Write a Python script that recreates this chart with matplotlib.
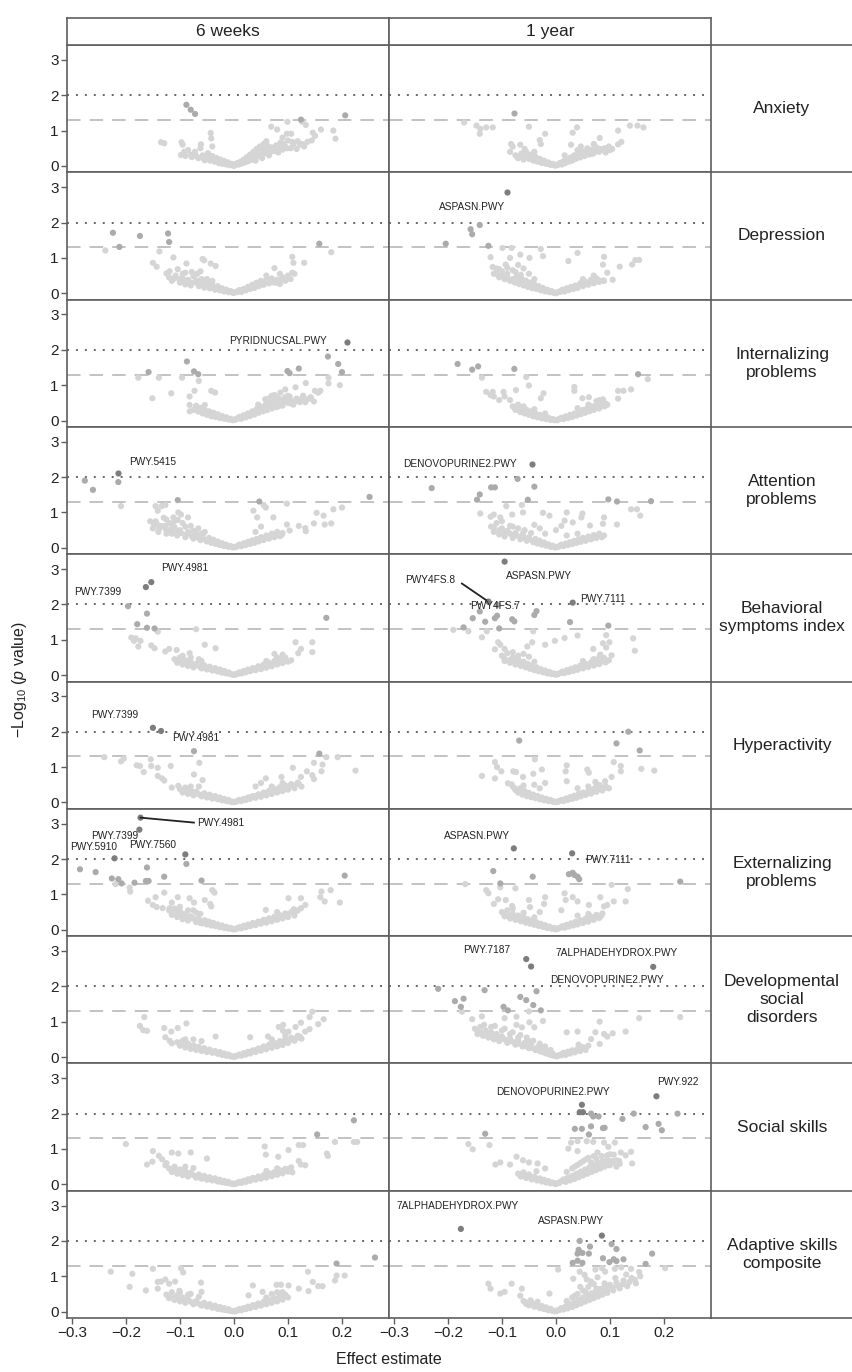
import numpy as np
import matplotlib.pyplot as plt
from matplotlib.lines import Line2D

plt.rcParams['font.family'] = ['Liberation Sans', 'DejaVu Sans']
plt.rcParams['mathtext.fontset'] = 'custom'
plt.rcParams['mathtext.rm'] = 'Liberation Sans'
plt.rcParams['mathtext.it'] = 'Liberation Sans:italic'

outcomes = ["Anxiety", "Depression", "Internalizing\nproblems", "Attention\nproblems",
            "Behavioral\nsymptoms index", "Hyperactivity", "Externalizing\nproblems",
            "Developmental\nsocial\ndisorders", "Social skills", "Adaptive skills\ncomposite"]
timepoints = ["6 weeks", "1 year"]
xticks = [-0.3, -0.2, -0.1, 0.0, 0.1, 0.2]
yticks = [0, 1, 2, 3]

# (effect estimate, -log10 p) per panel
anx_6w = [(-0.088,1.73),(-0.080,1.59),(-0.072,1.47),(0.206,1.43),(0.124,1.31),(0.126,1.25),
          (-0.135,0.67),(-0.129,0.64),(-0.097,0.67),(-0.095,0.60),(-0.098,0.31),(-0.092,0.40),
          (-0.061,0.61),(-0.054,0.16),(-0.043,0.93),(-0.042,0.78),(-0.040,0.55),
          (0.069,1.11),(0.080,1.03),(0.098,0.91),(0.106,0.91),(0.133,1.16),(0.146,0.94),
          (0.161,1.03),(0.184,1.00),(0.188,0.77),(0.099,1.25),(0.150,0.85),
          (-0.090,0.28),(-0.085,0.45),(-0.078,0.25),(-0.072,0.40),(-0.066,0.22),(-0.062,0.50),
          (-0.058,0.30),(-0.052,0.20),(-0.048,0.36),(-0.044,0.15),(-0.040,0.28),(-0.036,0.12),
          (-0.032,0.22),(-0.028,0.08),(-0.025,0.18),(-0.021,0.06),(-0.018,0.14),(-0.014,0.04),
          (-0.011,0.10),(-0.007,0.02),(-0.004,0.06),(0.000,0.00),(0.003,0.03),(0.006,0.08),
          (0.009,0.04),(0.012,0.12),(0.015,0.07),(0.018,0.18),(0.021,0.10),(0.024,0.25),
          (0.027,0.14),(0.030,0.32),(0.033,0.18),(0.036,0.40),(0.039,0.22),(0.042,0.48),
          (0.045,0.28),(0.048,0.55),(0.052,0.32),(0.055,0.62),(0.058,0.36),(0.062,0.45),
          (0.066,0.38),(0.070,0.52),(0.074,0.42),(0.078,0.58),(0.082,0.38),(0.086,0.66),
          (0.090,0.46),(0.095,0.55),(0.100,0.72),(0.105,0.50),(0.110,0.62),(0.116,0.48),
          (0.122,0.60),(0.130,0.55),(0.136,0.68),(0.144,0.72),(0.060,0.70),(0.090,0.80)]
anx_6w += [(-0.080,0.32),(-0.070,0.28),(-0.060,0.24),(-0.050,0.26),(-0.042,0.20),(-0.034,0.17),
           (-0.026,0.12),(-0.016,0.09),(-0.008,0.05),(-0.003,0.03),(0.004,0.05),(0.010,0.08),
           (0.016,0.12),(0.020,0.15),(0.026,0.20),(0.032,0.25),(0.038,0.31),(0.044,0.38),
           (0.050,0.44),(0.056,0.48),(0.064,0.55),(0.068,0.45),(0.076,0.50),(0.084,0.52),
           (0.092,0.62),(0.098,0.50),(0.108,0.68),(0.118,0.70),(0.126,0.62),(0.040,0.15),
           (0.052,0.22),(0.065,0.30)]
anx_1y = [(-0.077,1.49),(-0.170,1.23),(-0.147,1.14),(-0.140,1.05),(-0.129,1.09),(-0.117,1.09),
          (-0.141,0.91),(-0.050,1.11),(-0.020,0.91),(0.039,1.09),(0.031,0.94),(0.115,1.00),
          (0.137,1.14),(0.151,1.14),(0.162,1.09),(0.121,0.68),(0.115,0.61),(0.081,0.79),
          (-0.083,0.62),(-0.085,0.40),(-0.080,0.55),(-0.066,0.60),(-0.030,0.73),(-0.028,0.62),
          (0.028,0.60),(0.046,0.55),(0.070,0.62),(0.098,0.55),(0.104,0.48),
          (-0.075,0.30),(-0.070,0.22),(-0.064,0.35),(-0.060,0.18),(-0.055,0.40),(-0.050,0.20),
          (-0.046,0.32),(-0.042,0.15),(-0.038,0.26),(-0.034,0.12),(-0.030,0.20),(-0.026,0.08),
          (-0.022,0.15),(-0.018,0.06),(-0.014,0.10),(-0.010,0.03),(-0.006,0.06),(-0.002,0.01),
          (0.002,0.02),(0.005,0.05),(0.008,0.09),(0.011,0.04),(0.014,0.13),(0.017,0.08),
          (0.020,0.18),(0.024,0.12),(0.027,0.24),(0.030,0.15),(0.034,0.30),(0.037,0.20),
          (0.041,0.36),(0.045,0.24),(0.049,0.42),(0.053,0.28),(0.057,0.40),(0.061,0.32),
          (0.065,0.46),(0.070,0.36),(0.075,0.52),(0.080,0.40),(0.086,0.46),(0.092,0.38),
          (0.100,0.45)]
anx_1y += [(-0.072,0.26),(-0.062,0.28),(-0.052,0.25),(-0.044,0.22),(-0.036,0.17),(-0.028,0.13),
           (-0.020,0.10),(-0.012,0.06),(-0.004,0.03),(0.004,0.04),(0.012,0.07),(0.018,0.12),
           (0.024,0.16),(0.030,0.22),(0.036,0.26),(0.042,0.30),(0.048,0.32),(0.054,0.36),
           (0.060,0.42),(0.066,0.34),(0.072,0.45),(0.082,0.48),(0.090,0.50),(0.040,0.45),
           (-0.040,0.40),(-0.058,0.48),(0.016,0.30),(0.058,0.50)]
dep_6w = [(-0.224,1.71),(-0.174,1.62),(-0.122,1.69),(-0.120,1.45),(-0.212,1.31),(-0.238,1.21),
          (0.158,1.40),(0.180,1.16),(-0.138,1.18),(-0.150,0.86),(-0.143,0.75),(-0.125,0.56),
          (-0.119,0.62),(-0.112,1.01),(-0.104,0.68),(-0.088,0.84),(-0.058,0.97),(-0.055,0.93),
          (-0.043,0.84),(-0.034,0.77),(0.108,1.03),(0.110,0.86),(0.130,0.86),(0.108,0.58),
          (0.075,0.71),
          (-0.120,0.45),(-0.115,0.35),(-0.108,0.50),(-0.100,0.30),(-0.095,0.42),(-0.090,0.25),
          (-0.085,0.38),(-0.080,0.22),(-0.075,0.48),(-0.070,0.30),(-0.065,0.20),(-0.060,0.40),
          (-0.055,0.16),(-0.050,0.30),(-0.045,0.14),(-0.040,0.24),(-0.035,0.10),(-0.030,0.20),
          (-0.026,0.08),(-0.022,0.14),(-0.018,0.05),(-0.014,0.10),(-0.010,0.03),(-0.006,0.06),
          (-0.002,0.01),(0.002,0.02),(0.006,0.05),(0.010,0.09),(0.014,0.04),(0.018,0.12),
          (0.022,0.08),(0.026,0.18),(0.030,0.12),(0.034,0.24),(0.038,0.15),(0.042,0.30),
          (0.046,0.20),(0.050,0.35),(0.055,0.24),(0.060,0.40),(0.065,0.28),(0.070,0.42),
          (0.075,0.30),(0.080,0.38),(0.085,0.26),(0.090,0.45),(0.095,0.35),(0.100,0.50),
          (0.105,0.40),(0.112,0.55),(-0.068,0.55),(-0.062,0.62),(-0.078,0.60),(-0.090,0.58)]
dep_6w += [(-0.110,0.42),(-0.100,0.40),(-0.090,0.35),(-0.080,0.30),(-0.070,0.36),(-0.060,0.28),
           (-0.050,0.22),(-0.040,0.18),(-0.032,0.14),(-0.024,0.11),(-0.016,0.07),(-0.008,0.04),
           (0.000,0.02),(0.008,0.04),(0.016,0.08),(0.024,0.13),(0.032,0.17),(0.040,0.22),
           (0.048,0.26),(0.056,0.30),(0.064,0.34),(0.072,0.36),(0.080,0.30),(0.088,0.38),
           (0.098,0.42),(-0.050,0.40),(-0.040,0.35),(0.060,0.50),(0.085,0.55),(-0.095,0.55)]
dep_1y = [(-0.091,2.85),(-0.141,1.93),(-0.158,1.81),(-0.155,1.67),(-0.204,1.40),(-0.125,1.34),
          (-0.099,1.28),(-0.082,1.28),(-0.028,1.25),(0.040,1.14),(-0.121,1.02),(-0.085,1.00),
          (-0.066,1.09),(-0.049,1.00),(-0.024,1.05),(0.023,0.91),(0.089,1.03),(0.087,0.81),
          (0.154,0.94),(0.147,0.94),(0.141,0.81),(0.118,0.75),(0.095,0.58),(0.105,0.38),
          (0.089,0.35),(-0.117,0.74),(-0.105,0.68),(-0.093,0.81),
          (-0.115,0.55),(-0.110,0.70),(-0.105,0.45),(-0.100,0.62),(-0.095,0.40),(-0.090,0.55),
          (-0.085,0.35),(-0.080,0.65),(-0.076,0.30),(-0.072,0.50),(-0.068,0.26),(-0.064,0.42),
          (-0.060,0.22),(-0.056,0.36),(-0.052,0.18),(-0.048,0.30),(-0.044,0.14),(-0.040,0.25),
          (-0.036,0.12),(-0.032,0.20),(-0.028,0.08),(-0.024,0.15),(-0.020,0.05),(-0.016,0.10),
          (-0.012,0.03),(-0.008,0.06),(-0.004,0.01),(0.000,0.00),(0.004,0.03),(0.008,0.06),
          (0.012,0.10),(0.016,0.05),(0.020,0.14),(0.024,0.09),(0.028,0.18),(0.032,0.12),
          (0.036,0.22),(0.040,0.15),(0.045,0.28),(0.050,0.20),(0.055,0.32),(0.060,0.24),
          (0.065,0.38),(0.070,0.28),(0.075,0.42),(0.080,0.32),(0.088,0.36),(-0.070,0.80),
          (-0.060,0.70),(-0.050,0.55)]
dep_1y += [(-0.110,0.55),(-0.100,0.50),(-0.090,0.45),(-0.080,0.40),(-0.072,0.38),(-0.064,0.32),
           (-0.056,0.28),(-0.048,0.24),(-0.040,0.19),(-0.032,0.15),(-0.024,0.11),(-0.016,0.07),
           (-0.008,0.04),(0.000,0.02),(0.008,0.04),(0.016,0.08),(0.024,0.12),(0.032,0.16),
           (0.040,0.20),(0.048,0.24),(0.056,0.27),(0.064,0.30),(0.072,0.34),(0.080,0.36),
           (-0.090,0.72),(-0.075,0.60),(-0.065,0.52),(-0.040,0.40),(0.050,0.40),(0.070,0.50)]
int_6w = [(0.209,2.23),(-0.087,1.67),(0.174,1.81),(0.193,1.60),(0.120,1.47),(0.099,1.40),
          (0.103,1.34),(-0.158,1.37),(-0.074,1.39),(-0.066,1.31),(0.200,1.37),
          (-0.177,1.21),(-0.139,1.21),(-0.096,1.21),(-0.151,0.63),(-0.116,0.77),(-0.065,1.12),
          (-0.073,0.84),(-0.082,0.68),(-0.082,0.44),(-0.082,0.26),(-0.042,0.84),(-0.035,0.79),
          (-0.054,0.44),(0.133,1.06),(0.175,1.21),(0.175,1.05),(0.196,1.00),(0.114,0.94),
          (0.095,0.88),(0.150,0.84),(0.156,0.79),(0.160,0.84),(0.120,0.58),(0.148,0.54),
          (0.142,0.62),(0.086,0.79),(0.075,0.72),(0.103,0.68),(0.091,0.54),
          (-0.075,0.30),(-0.070,0.42),(-0.066,0.25),(-0.062,0.36),(-0.058,0.20),(-0.054,0.30),
          (-0.050,0.16),(-0.046,0.26),(-0.042,0.12),(-0.038,0.22),(-0.034,0.10),(-0.030,0.18),
          (-0.026,0.07),(-0.022,0.13),(-0.018,0.05),(-0.014,0.09),(-0.010,0.03),(-0.006,0.05),
          (-0.002,0.01),(0.002,0.02),(0.006,0.06),(0.010,0.10),(0.014,0.05),(0.018,0.15),
          (0.022,0.09),(0.026,0.20),(0.030,0.13),(0.034,0.26),(0.038,0.17),(0.042,0.32),
          (0.046,0.22),(0.050,0.38),(0.054,0.26),(0.058,0.44),(0.062,0.30),(0.066,0.50),
          (0.070,0.34),(0.074,0.55),(0.078,0.38),(0.082,0.48),(0.086,0.60),(0.090,0.42),
          (0.095,0.66),(0.100,0.50),(0.105,0.58),(0.110,0.45),(0.116,0.62),(0.122,0.52),
          (0.128,0.70),(0.135,0.60),(0.142,0.66),(0.058,0.60),(0.070,0.70)]
int_6w += [(-0.070,0.34),(-0.062,0.28),(-0.054,0.24),(-0.046,0.20),(-0.038,0.16),(-0.030,0.13),
           (-0.022,0.09),(-0.014,0.06),(-0.006,0.03),(0.002,0.03),(0.010,0.06),(0.018,0.10),
           (0.026,0.15),(0.034,0.20),(0.042,0.24),(0.050,0.28),(0.058,0.32),(0.066,0.38),
           (0.074,0.42),(0.082,0.40),(0.090,0.52),(0.098,0.56),(0.106,0.48),(0.114,0.55),
           (0.124,0.60),(0.132,0.52),(0.064,0.62),(0.080,0.66),(0.100,0.70),(0.045,0.45)]
int_1y = [(-0.182,1.60),(-0.155,1.44),(-0.144,1.53),(-0.077,1.46),(0.152,1.31),
          (-0.137,1.21),(-0.055,1.23),(0.170,1.17),(-0.050,0.99),(-0.129,0.81),(-0.117,0.81),
          (-0.097,0.81),(-0.074,0.86),(-0.095,0.68),(-0.115,0.68),(-0.105,0.58),(-0.121,0.72),
          (-0.085,0.58),(0.115,0.84),(0.125,0.84),(0.139,0.88),(0.115,0.62),(0.034,0.95),
          (0.034,0.84),(-0.023,0.77),(-0.028,0.63),(0.061,0.66),(0.049,0.63),(0.081,0.58),
          (0.087,0.60),
          (-0.080,0.40),(-0.075,0.30),(-0.070,0.45),(-0.066,0.24),(-0.062,0.36),(-0.058,0.20),
          (-0.054,0.30),(-0.050,0.16),(-0.046,0.26),(-0.042,0.12),(-0.038,0.20),(-0.034,0.09),
          (-0.030,0.16),(-0.026,0.06),(-0.022,0.12),(-0.018,0.04),(-0.014,0.08),(-0.010,0.02),
          (-0.006,0.04),(-0.002,0.01),(0.002,0.01),(0.006,0.04),(0.010,0.08),(0.014,0.04),
          (0.018,0.12),(0.022,0.07),(0.026,0.16),(0.030,0.10),(0.034,0.20),(0.038,0.14),
          (0.042,0.25),(0.046,0.18),(0.050,0.30),(0.054,0.22),(0.058,0.35),(0.062,0.26),
          (0.066,0.40),(0.070,0.30),(0.075,0.45),(0.080,0.34),(0.085,0.50),(0.090,0.40),
          (0.095,0.45)]
int_1y += [(-0.076,0.36),(-0.068,0.32),(-0.060,0.27),(-0.052,0.23),(-0.044,0.19),(-0.036,0.15),
           (-0.028,0.11),(-0.020,0.08),(-0.012,0.05),(-0.004,0.02),(0.004,0.03),(0.012,0.06),
           (0.020,0.09),(0.028,0.13),(0.036,0.17),(0.044,0.21),(0.052,0.25),(0.060,0.29),
           (0.068,0.33),(0.076,0.38),(0.084,0.42),(0.092,0.48),(0.040,0.35),(0.060,0.45),
           (-0.040,0.32),(-0.060,0.40),(0.075,0.55),(-0.020,0.20)]
att_6w = [(-0.214,2.11),(-0.276,1.90),(-0.261,1.64),(-0.214,1.86),(-0.104,1.35),(0.047,1.31),
          (0.251,1.44),(-0.209,1.18),(-0.145,1.18),(-0.134,1.18),(-0.127,1.21),(-0.141,1.05),
          (-0.155,0.75),(-0.143,0.68),(-0.127,0.56),(-0.125,0.40),(-0.115,0.68),(-0.104,0.79),
          (-0.098,0.94),(-0.085,0.86),(-0.103,1.00),(-0.112,0.86),(0.055,1.21),(0.059,1.14),
          (0.043,0.86),(0.036,1.05),(0.073,0.86),(0.098,1.25),(0.098,0.66),(0.103,0.49),
          (0.120,0.62),(0.132,0.56),(0.133,0.47),(0.153,0.99),(0.166,0.91),(0.148,0.69),
          (0.180,0.69),(0.184,1.09),(0.200,1.14),(0.168,0.66),
          (-0.150,0.55),(-0.145,0.75),(-0.140,0.45),(-0.135,0.62),(-0.130,0.85),(-0.125,0.50),
          (-0.120,0.70),(-0.115,0.40),(-0.110,0.58),(-0.105,0.35),(-0.100,0.50),(-0.095,0.70),
          (-0.090,0.30),(-0.085,0.45),(-0.080,0.62),(-0.075,0.26),(-0.070,0.40),(-0.066,0.55),
          (-0.062,0.22),(-0.058,0.34),(-0.054,0.45),(-0.050,0.18),(-0.046,0.28),(-0.042,0.14),
          (-0.038,0.23),(-0.034,0.11),(-0.030,0.18),(-0.026,0.08),(-0.022,0.13),(-0.018,0.05),
          (-0.014,0.09),(-0.010,0.03),(-0.006,0.05),(-0.002,0.01),(0.002,0.02),(0.006,0.05),
          (0.010,0.09),(0.014,0.05),(0.018,0.13),(0.022,0.08),(0.026,0.17),(0.030,0.11),
          (0.034,0.21),(0.038,0.14),(0.042,0.25),(0.046,0.18),(0.050,0.30),(0.055,0.22),
          (0.060,0.35),(0.065,0.26),(0.070,0.40),(0.075,0.30),(0.080,0.45),(0.085,0.33),
          (0.090,0.42),(0.040,0.45),(0.050,0.60)]
att_6w += [(-0.148,0.65),(-0.138,0.55),(-0.128,0.62),(-0.118,0.52),(-0.108,0.48),(-0.098,0.42),
           (-0.088,0.38),(-0.078,0.33),(-0.068,0.30),(-0.060,0.26),(-0.052,0.22),(-0.044,0.19),
           (-0.036,0.15),(-0.028,0.12),(-0.020,0.08),(-0.012,0.05),(-0.004,0.03),(0.004,0.03),
           (0.012,0.06),(0.020,0.10),(0.028,0.14),(0.036,0.18),(0.044,0.22),(0.052,0.26),
           (0.060,0.28),(0.068,0.33),(0.078,0.38),(0.088,0.36),(-0.125,0.80),(-0.110,0.75),
           (-0.090,0.60),(-0.075,0.48),(-0.060,0.40)]
att_1y = [(-0.044,2.38),(-0.230,1.69),(-0.120,1.71),(-0.113,1.71),(-0.071,1.95),(-0.040,1.73),
          (-0.141,1.51),(-0.146,1.36),(-0.052,1.36),(0.097,1.37),(0.113,1.31),(0.176,1.32),
          (-0.092,1.18),(-0.063,1.21),(-0.140,0.97),(-0.115,0.94),(-0.121,0.88),(-0.103,0.86),
          (-0.081,0.94),(-0.061,1.00),(-0.024,0.99),(-0.012,0.91),(0.020,1.00),(0.049,0.97),
          (0.047,0.86),(0.016,0.77),(0.031,0.72),(0.063,0.63),(0.089,0.86),(0.087,0.68),
          (0.089,0.35),(0.113,0.66),(0.139,1.09),(0.150,1.09),(0.156,0.91),
          (-0.120,0.60),(-0.115,0.45),(-0.110,0.70),(-0.105,0.38),(-0.100,0.55),(-0.095,0.32),
          (-0.090,0.48),(-0.085,0.62),(-0.080,0.28),(-0.075,0.42),(-0.070,0.55),(-0.066,0.24),
          (-0.062,0.36),(-0.058,0.50),(-0.054,0.20),(-0.050,0.30),(-0.046,0.42),(-0.042,0.16),
          (-0.038,0.25),(-0.034,0.12),(-0.030,0.20),(-0.026,0.09),(-0.022,0.15),(-0.018,0.06),
          (-0.014,0.10),(-0.010,0.03),(-0.006,0.06),(-0.002,0.01),(0.002,0.02),(0.006,0.05),
          (0.010,0.09),(0.014,0.05),(0.018,0.12),(0.022,0.08),(0.026,0.16),(0.030,0.11),
          (0.034,0.20),(0.038,0.14),(0.042,0.24),(0.046,0.17),(0.050,0.28),(0.055,0.20),
          (0.060,0.32),(0.065,0.24),(0.070,0.36),(0.075,0.28),(0.080,0.40),(0.085,0.30),
          (-0.030,0.55),(-0.040,0.65),(0.000,0.50),(0.010,0.62)]
att_1y += [(-0.115,0.58),(-0.105,0.50),(-0.095,0.45),(-0.085,0.40),(-0.075,0.35),(-0.066,0.32),
           (-0.058,0.28),(-0.050,0.24),(-0.042,0.20),(-0.034,0.16),(-0.026,0.12),(-0.018,0.08),
           (-0.010,0.05),(-0.002,0.03),(0.006,0.04),(0.014,0.08),(0.022,0.11),(0.030,0.15),
           (0.038,0.19),(0.046,0.22),(0.054,0.25),(0.062,0.28),(0.070,0.30),(0.078,0.34),
           (-0.100,0.75),(-0.080,0.60),(-0.060,0.45),(-0.020,0.40),(0.020,0.35),(0.040,0.40)]
bsi_6w = [(-0.153,2.63),(-0.163,2.49),(-0.196,1.95),(-0.161,1.74),(-0.179,1.44),(-0.161,1.34),
          (-0.147,1.32),(0.171,1.62),(-0.141,1.23),(-0.070,1.30),(-0.190,1.06),(-0.182,1.04),
          (-0.185,0.97),(-0.173,0.97),(-0.177,0.81),(-0.153,0.84),(-0.147,0.76),(-0.127,0.67),
          (-0.120,0.74),(-0.106,0.71),(-0.082,0.62),(-0.054,0.86),(-0.034,0.76),(0.114,0.93),
          (0.145,0.93),(0.145,0.65),(0.124,0.74),(0.119,0.62),(0.075,0.60),(0.090,0.58),
          (-0.110,0.45),(-0.105,0.35),(-0.100,0.50),(-0.095,0.30),(-0.090,0.42),(-0.085,0.26),
          (-0.080,0.38),(-0.075,0.22),(-0.070,0.32),(-0.065,0.45),(-0.060,0.19),(-0.055,0.28),
          (-0.050,0.16),(-0.045,0.24),(-0.040,0.13),(-0.035,0.20),(-0.030,0.10),(-0.026,0.16),
          (-0.022,0.07),(-0.018,0.12),(-0.014,0.05),(-0.010,0.08),(-0.006,0.03),(-0.002,0.01),
          (0.002,0.01),(0.006,0.04),(0.010,0.08),(0.014,0.05),(0.018,0.12),(0.022,0.08),
          (0.026,0.16),(0.030,0.11),(0.035,0.20),(0.040,0.14),(0.045,0.25),(0.050,0.17),
          (0.055,0.30),(0.060,0.21),(0.065,0.35),(0.070,0.25),(0.075,0.40),(0.080,0.30),
          (0.085,0.45),(0.090,0.34),(0.095,0.50),(0.100,0.38),(0.106,0.42)]
bsi_6w += [(-0.104,0.42),(-0.094,0.38),(-0.084,0.32),(-0.074,0.28),(-0.064,0.25),(-0.056,0.22),
           (-0.048,0.19),(-0.040,0.16),(-0.032,0.13),(-0.024,0.10),(-0.016,0.07),(-0.008,0.04),
           (0.000,0.02),(0.008,0.04),(0.016,0.07),(0.024,0.11),(0.032,0.14),(0.040,0.18),
           (0.048,0.21),(0.056,0.25),(0.064,0.28),(0.072,0.32),(0.080,0.36),(0.088,0.40),
           (0.096,0.44),(-0.080,0.50),(-0.060,0.40),(0.060,0.40),(0.080,0.50),(-0.095,0.55)]
bsi_1y = [(-0.095,3.21),(0.031,2.05),(-0.125,2.08),(-0.108,1.99),
          (-0.036,1.81),(-0.040,1.70),(-0.109,1.68),(-0.113,1.61),(-0.141,1.80),(-0.154,1.61),
          (-0.131,1.51),(-0.081,1.58),(-0.077,1.52),(0.026,1.50),(0.097,1.40),(-0.171,1.35),
          (-0.105,1.32),(-0.190,1.28),(-0.162,1.24),(-0.128,1.24),(-0.042,1.24),(0.093,1.13),
          (0.040,1.12),(0.016,1.05),(-0.002,0.97),(-0.137,1.07),(-0.107,0.93),(-0.103,0.86),
          (-0.095,0.74),(-0.113,0.73),(-0.044,0.93),(-0.053,0.81),(-0.020,0.86),(0.143,1.04),
          (0.146,0.69),(0.099,0.93),(0.087,0.90),(0.093,0.78),(0.069,0.74),(0.082,0.58),
          (0.069,0.44),(0.089,0.49),(0.103,0.56),
          (-0.100,0.55),(-0.095,0.40),(-0.090,0.62),(-0.085,0.35),(-0.080,0.50),(-0.075,0.30),
          (-0.070,0.45),(-0.065,0.26),(-0.060,0.38),(-0.056,0.22),(-0.052,0.32),(-0.048,0.18),
          (-0.044,0.27),(-0.040,0.14),(-0.036,0.22),(-0.032,0.11),(-0.028,0.17),(-0.024,0.08),
          (-0.020,0.13),(-0.016,0.05),(-0.012,0.09),(-0.008,0.03),(-0.004,0.05),(0.000,0.01),
          (0.004,0.03),(0.008,0.06),(0.012,0.10),(0.016,0.06),(0.020,0.14),(0.024,0.09),
          (0.028,0.18),(0.032,0.12),(0.036,0.22),(0.040,0.15),(0.045,0.27),(0.050,0.19),
          (0.055,0.32),(0.060,0.23),(0.065,0.36),(0.070,0.27),(0.075,0.40),(0.080,0.31),
          (0.086,0.45),(0.092,0.36),(0.098,0.42),(-0.060,0.60),(-0.050,0.52)]
bsi_1y += [(-0.096,0.48),(-0.086,0.42),(-0.076,0.38),(-0.068,0.33),(-0.060,0.29),(-0.052,0.25),
           (-0.044,0.21),(-0.036,0.17),(-0.028,0.13),(-0.020,0.09),(-0.012,0.06),(-0.004,0.03),
           (0.004,0.04),(0.012,0.07),(0.020,0.10),(0.028,0.14),(0.036,0.18),(0.044,0.22),
           (0.052,0.25),(0.060,0.29),(0.068,0.32),(0.076,0.35),(0.084,0.38),(0.092,0.42),
           (-0.080,0.65),(-0.070,0.55),(-0.040,0.38),(0.050,0.40),(0.070,0.45),(0.080,0.50)]
hyp_6w = [(-0.150,2.11),(-0.135,2.02),(-0.074,1.45),(0.158,1.38),
          (-0.240,1.28),(-0.209,1.16),(-0.204,1.24),(-0.180,1.05),(-0.174,1.03),(-0.167,0.86),
          (-0.154,1.22),(-0.153,1.03),(-0.141,0.98),(-0.117,1.03),(-0.064,1.12),(-0.141,0.75),
          (-0.133,0.68),(-0.129,0.62),(-0.115,0.42),(-0.103,0.47),(-0.074,0.79),(-0.058,0.63),
          (0.148,1.12),(0.164,1.07),(0.171,1.28),(0.192,1.28),(0.225,0.90),(0.135,0.88),
          (0.109,0.98),(0.124,0.72),(0.148,0.66),(0.145,0.77),(0.162,0.88),(0.088,0.72),
          (0.059,0.68),
          (-0.100,0.38),(-0.095,0.28),(-0.090,0.42),(-0.085,0.24),(-0.080,0.35),(-0.075,0.20),
          (-0.070,0.30),(-0.065,0.45),(-0.060,0.17),(-0.055,0.26),(-0.050,0.14),(-0.045,0.22),
          (-0.040,0.11),(-0.035,0.18),(-0.030,0.09),(-0.026,0.14),(-0.022,0.06),(-0.018,0.10),
          (-0.014,0.04),(-0.010,0.07),(-0.006,0.02),(-0.002,0.01),(0.002,0.01),(0.006,0.04),
          (0.010,0.07),(0.014,0.04),(0.018,0.10),(0.022,0.07),(0.026,0.14),(0.030,0.10),
          (0.035,0.18),(0.040,0.13),(0.045,0.23),(0.050,0.16),(0.055,0.28),(0.060,0.20),
          (0.065,0.33),(0.070,0.24),(0.075,0.38),(0.080,0.28),(0.085,0.43),(0.090,0.32),
          (0.095,0.48),(0.100,0.36),(0.106,0.52),(0.112,0.40),(0.118,0.56),(0.125,0.45),
          (0.040,0.45),(0.050,0.55)]
hyp_6w += [(-0.095,0.35),(-0.085,0.32),(-0.075,0.28),(-0.066,0.24),(-0.058,0.22),(-0.050,0.19),
           (-0.042,0.16),(-0.034,0.13),(-0.026,0.10),(-0.018,0.07),(-0.010,0.04),(-0.002,0.02),
           (0.006,0.03),(0.014,0.06),(0.022,0.10),(0.030,0.14),(0.038,0.18),(0.046,0.21),
           (0.054,0.24),(0.062,0.27),(0.070,0.31),(0.078,0.34),(0.086,0.38),(0.094,0.41),
           (0.102,0.45),(0.110,0.48),(0.120,0.52),(0.070,0.45),(0.090,0.55),(-0.080,0.45)]
hyp_1y = [(0.134,2.00),(-0.068,1.75),(0.112,1.67),(0.155,1.47),
          (-0.039,1.22),(-0.113,1.14),(-0.109,1.00),(-0.101,0.88),(-0.137,0.75),(-0.113,0.68),
          (-0.079,0.88),(-0.074,0.86),(-0.089,0.54),(-0.082,0.51),(-0.061,0.72),(-0.042,0.81),
          (-0.026,0.93),(0.020,1.05),(0.018,0.88),(0.058,0.93),(0.061,0.84),(0.107,1.14),
          (0.120,1.03),(0.120,0.88),(0.103,0.72),(0.091,0.60),(0.158,0.95),(0.182,0.90),
          (0.073,0.58),(0.081,0.49),
          (-0.080,0.45),(-0.075,0.35),(-0.070,0.28),(-0.066,0.40),(-0.062,0.22),(-0.058,0.32),
          (-0.054,0.18),(-0.050,0.27),(-0.046,0.15),(-0.042,0.22),(-0.038,0.12),(-0.034,0.18),
          (-0.030,0.09),(-0.026,0.14),(-0.022,0.06),(-0.018,0.10),(-0.014,0.04),(-0.010,0.07),
          (-0.006,0.02),(-0.002,0.01),(0.002,0.01),(0.006,0.04),(0.010,0.07),(0.014,0.04),
          (0.018,0.11),(0.022,0.07),(0.026,0.15),(0.030,0.10),(0.034,0.19),(0.038,0.13),
          (0.042,0.24),(0.046,0.17),(0.050,0.28),(0.055,0.21),(0.060,0.33),(0.065,0.25),
          (0.070,0.38),(0.075,0.30),(0.080,0.42),(0.086,0.34),(0.092,0.46),(0.098,0.40),
          (-0.020,0.55),(0.020,0.60),(-0.040,0.50)]
hyp_1y += [(-0.076,0.40),(-0.068,0.34),(-0.060,0.29),(-0.052,0.24),(-0.044,0.20),(-0.036,0.16),
           (-0.028,0.12),(-0.020,0.09),(-0.012,0.05),(-0.004,0.03),(0.004,0.03),(0.012,0.06),
           (0.020,0.09),(0.028,0.13),(0.036,0.17),(0.044,0.20),(0.052,0.24),(0.060,0.27),
           (0.068,0.31),(0.076,0.35),(0.084,0.38),(0.092,0.42),(-0.060,0.48),(0.040,0.40),
           (0.060,0.45),(0.075,0.52),(-0.030,0.40)]
ext_6w = [(-0.173,3.17),(-0.175,2.83),(-0.221,2.02),(-0.090,2.13),
          (-0.285,1.71),(-0.256,1.63),(-0.088,1.86),(-0.161,1.76),(-0.226,1.45),(-0.214,1.43),
          (-0.129,1.50),(-0.163,1.38),(-0.158,1.38),(0.205,1.53),(-0.060,1.39),
          (-0.219,1.29),(-0.208,1.31),(-0.184,1.33),(-0.193,1.19),(-0.192,1.08),(-0.159,0.82),
          (-0.145,0.92),(-0.129,1.05),(-0.104,0.92),(-0.150,0.70),(-0.143,0.64),(-0.132,0.61),
          (-0.119,0.61),(-0.115,0.77),(-0.101,0.58),(-0.095,0.45),(-0.082,0.89),(-0.074,0.77),
          (-0.062,0.19),(-0.054,0.84),(-0.044,0.73),(-0.042,0.66),(-0.036,1.05),(-0.040,1.12),
          (0.179,1.12),(0.162,1.08),(0.160,0.92),(0.168,0.80),(0.196,0.77),(0.101,0.89),
          (0.124,0.89),(0.132,0.70),(0.124,0.61),(0.111,0.58),(0.059,0.56),(0.116,0.54),
          (-0.120,0.55),(-0.115,0.42),(-0.110,0.60),(-0.105,0.36),(-0.100,0.50),(-0.095,0.30),
          (-0.090,0.44),(-0.085,0.26),(-0.080,0.38),(-0.075,0.55),(-0.070,0.22),(-0.066,0.32),
          (-0.062,0.45),(-0.058,0.18),(-0.054,0.27),(-0.050,0.15),(-0.046,0.23),(-0.042,0.12),
          (-0.038,0.19),(-0.034,0.10),(-0.030,0.15),(-0.026,0.07),(-0.022,0.12),(-0.018,0.05),
          (-0.014,0.08),(-0.010,0.03),(-0.006,0.05),(-0.002,0.01),(0.002,0.01),(0.006,0.04),
          (0.010,0.07),(0.014,0.04),(0.018,0.11),(0.022,0.07),(0.026,0.15),(0.030,0.10),
          (0.035,0.19),(0.040,0.13),(0.045,0.23),(0.050,0.17),(0.055,0.28),(0.060,0.20),
          (0.065,0.32),(0.070,0.24),(0.075,0.37),(0.080,0.28),(0.085,0.41),(0.090,0.32),
          (0.095,0.46),(0.100,0.36),(0.106,0.50),(0.112,0.40),(0.118,0.54)]
ext_6w += [(-0.116,0.50),(-0.106,0.46),(-0.096,0.40),(-0.086,0.36),(-0.076,0.32),(-0.068,0.28),
           (-0.060,0.24),(-0.052,0.21),(-0.044,0.18),(-0.036,0.15),(-0.028,0.11),(-0.020,0.08),
           (-0.012,0.05),(-0.004,0.03),(0.004,0.03),(0.012,0.06),(0.020,0.09),(0.028,0.13),
           (0.036,0.16),(0.044,0.20),(0.052,0.23),(0.060,0.26),(0.068,0.30),(0.076,0.33),
           (0.084,0.36),(0.092,0.40),(0.100,0.44),(0.110,0.48),(-0.100,0.65),(-0.085,0.55),
           (-0.070,0.48),(0.080,0.50)]
ext_1y = [(-0.078,2.30),(0.030,2.16),
          (0.024,1.57),(0.031,1.61),(0.034,1.55),(0.040,1.50),(0.043,1.43),(-0.116,1.66),
          (-0.043,1.50),(-0.103,1.31),(0.230,1.36),
          (-0.168,1.29),(-0.129,1.12),(-0.125,1.03),(-0.103,1.20),(-0.075,1.17),(-0.107,0.86),
          (-0.115,0.73),(-0.093,0.84),(-0.081,0.67),(-0.050,0.84),(-0.048,0.64),(-0.020,0.92),
          (-0.022,0.73),(0.016,1.03),(0.018,0.84),(0.031,0.92),(0.040,0.80),(0.061,0.70),
          (0.082,0.92),(0.103,1.27),(0.133,1.15),(0.129,0.80),(0.107,0.80),(0.089,0.66),
          (0.095,0.70),
          (-0.100,0.50),(-0.095,0.38),(-0.090,0.55),(-0.085,0.32),(-0.080,0.46),(-0.075,0.28),
          (-0.070,0.40),(-0.065,0.24),(-0.060,0.35),(-0.056,0.20),(-0.052,0.30),(-0.048,0.17),
          (-0.044,0.25),(-0.040,0.14),(-0.036,0.21),(-0.032,0.11),(-0.028,0.17),(-0.024,0.08),
          (-0.020,0.13),(-0.016,0.05),(-0.012,0.09),(-0.008,0.03),(-0.004,0.05),(0.000,0.01),
          (0.004,0.03),(0.008,0.06),(0.012,0.10),(0.016,0.06),(0.020,0.14),(0.024,0.09),
          (0.028,0.18),(0.032,0.12),(0.036,0.22),(0.040,0.15),(0.045,0.27),(0.050,0.19),
          (0.055,0.32),(0.060,0.23),(0.065,0.37),(0.070,0.28),(0.075,0.42),(0.080,0.33),
          (0.086,0.46),(-0.030,0.50),(0.010,0.55)]
ext_1y += [(-0.096,0.45),(-0.086,0.40),(-0.076,0.36),(-0.068,0.32),(-0.060,0.28),(-0.052,0.24),
           (-0.044,0.20),(-0.036,0.16),(-0.028,0.12),(-0.020,0.09),(-0.012,0.06),(-0.004,0.03),
           (0.004,0.04),(0.012,0.07),(0.020,0.10),(0.028,0.14),(0.036,0.18),(0.044,0.21),
           (0.052,0.25),(0.060,0.28),(0.068,0.32),(0.076,0.36),(0.084,0.40),(-0.080,0.60),
           (-0.060,0.48),(0.040,0.40),(0.060,0.45),(-0.040,0.35)]
dev_6w = [(0.145,1.28),(-0.166,1.13),(-0.174,0.88),(-0.161,0.74),(-0.168,0.76),(-0.129,0.82),
          (-0.104,0.82),(-0.088,0.95),(-0.116,0.72),(-0.127,0.56),(-0.119,0.46),(-0.115,0.39),
          (-0.034,0.58),(0.140,1.13),(0.166,1.07),(0.156,0.93),(0.124,0.97),(0.114,0.85),
          (0.091,0.91),(0.083,0.85),(0.091,0.74),(0.063,0.58),(0.030,0.56),(0.132,0.72),
          (0.122,0.58),(0.101,0.72),(0.140,0.79),
          (-0.105,0.42),(-0.100,0.32),(-0.095,0.46),(-0.090,0.27),(-0.085,0.38),(-0.080,0.23),
          (-0.075,0.33),(-0.070,0.20),(-0.065,0.29),(-0.060,0.17),(-0.055,0.25),(-0.050,0.14),
          (-0.045,0.21),(-0.040,0.12),(-0.035,0.17),(-0.030,0.09),(-0.026,0.14),(-0.022,0.06),
          (-0.018,0.10),(-0.014,0.04),(-0.010,0.07),(-0.006,0.02),(-0.002,0.01),(0.002,0.01),
          (0.006,0.04),(0.010,0.07),(0.014,0.04),(0.018,0.11),(0.022,0.07),(0.026,0.15),
          (0.030,0.10),(0.035,0.19),(0.040,0.14),(0.045,0.24),(0.050,0.18),(0.055,0.30),
          (0.060,0.22),(0.065,0.35),(0.070,0.26),(0.075,0.40),(0.080,0.30),(0.085,0.45),
          (0.090,0.34),(0.095,0.50),(0.100,0.40),(0.106,0.55),(0.112,0.46),(0.118,0.60),
          (0.125,0.52),(-0.060,0.45),(-0.075,0.50)]
dev_6w += [(-0.100,0.38),(-0.090,0.34),(-0.080,0.30),(-0.070,0.26),(-0.062,0.23),(-0.054,0.20),
           (-0.046,0.17),(-0.038,0.14),(-0.030,0.11),(-0.022,0.08),(-0.014,0.05),(-0.006,0.03),
           (0.002,0.02),(0.010,0.05),(0.018,0.08),(0.026,0.12),(0.034,0.16),(0.042,0.20),
           (0.050,0.24),(0.058,0.28),(0.066,0.31),(0.074,0.35),(0.082,0.38),(0.090,0.42),
           (0.098,0.46),(0.106,0.50),(0.116,0.54),(0.070,0.50),(0.095,0.60),(-0.090,0.50)]
dev_1y = [(-0.055,2.77),(-0.046,2.56),(0.180,2.55),
          (-0.218,1.93),(-0.132,1.89),(-0.187,1.58),(-0.171,1.65),(-0.176,1.42),(-0.174,1.28),
          (-0.097,1.42),(-0.089,1.32),(-0.066,1.70),(-0.055,1.61),(-0.042,1.47),(-0.036,1.86),
          (-0.028,1.32),(-0.050,1.29),
          (-0.137,1.15),(-0.155,1.07),(-0.095,1.10),(-0.073,1.14),(-0.073,0.91),(-0.063,0.84),
          (-0.049,0.98),(-0.040,0.84),(-0.024,1.02),(-0.133,0.91),(-0.113,0.88),(0.154,1.10),
          (0.230,1.13),(0.081,1.00),(0.020,0.70),(0.040,0.72),(0.073,0.70),(0.089,0.65),
          (0.105,0.67),(0.129,0.72),(0.081,0.37),(0.042,0.35),(0.065,0.51),(0.095,0.58),
          (-0.150,0.80),(-0.145,0.65),(-0.140,0.85),(-0.135,0.60),(-0.130,0.75),(-0.125,0.55),
          (-0.120,0.70),(-0.115,0.50),(-0.110,0.65),(-0.105,0.45),(-0.100,0.58),(-0.095,0.80),
          (-0.090,0.40),(-0.085,0.52),(-0.080,0.70),(-0.075,0.35),(-0.070,0.46),(-0.066,0.62),
          (-0.062,0.30),(-0.058,0.40),(-0.054,0.55),(-0.050,0.25),(-0.046,0.34),(-0.042,0.46),
          (-0.038,0.20),(-0.034,0.28),(-0.030,0.38),(-0.026,0.15),(-0.022,0.22),(-0.018,0.10),
          (-0.014,0.16),(-0.010,0.06),(-0.006,0.10),(-0.002,0.03),(0.002,0.02),(0.006,0.05),
          (0.010,0.08),(0.014,0.12),(0.018,0.06),(0.022,0.15),(0.026,0.10),(0.030,0.19),
          (0.035,0.13),(0.040,0.23),(0.045,0.17),(0.050,0.28),(0.055,0.20),(0.060,0.32),
          (-0.020,0.30),(-0.010,0.20)]
dev_1y += [(-0.145,0.72),(-0.135,0.70),(-0.125,0.65),(-0.115,0.60),(-0.105,0.55),(-0.095,0.50),
           (-0.085,0.45),(-0.078,0.42),(-0.070,0.38),(-0.062,0.34),(-0.054,0.30),(-0.046,0.26),
           (-0.038,0.22),(-0.030,0.17),(-0.022,0.13),(-0.014,0.09),(-0.006,0.05),(0.002,0.03),
           (0.010,0.05),(0.018,0.09),(0.026,0.13),(0.034,0.17),(0.042,0.20),(0.050,0.23),
           (-0.120,0.85),(-0.100,0.75),(-0.085,0.65),(-0.070,0.55),(-0.050,0.45),(-0.030,0.30)]
soc_6w = [(0.222,1.81),(0.154,1.41),
          (-0.200,1.14),(0.187,1.20),(0.222,1.20),(0.228,1.20),(-0.150,0.94),(-0.139,0.81),
          (-0.115,0.90),(-0.103,0.87),(-0.080,0.90),(-0.050,0.73),(-0.161,0.56),(-0.151,0.64),
          (-0.127,0.54),(-0.125,0.60),(-0.133,0.71),(0.057,1.07),(0.059,0.84),(0.082,0.78),
          (0.101,0.97),(0.120,1.11),(0.128,1.11),(0.120,0.66),(0.132,0.54),(0.124,0.56),
          (0.108,0.34),(0.172,0.87),(0.174,0.80),
          (-0.120,0.45),(-0.115,0.35),(-0.110,0.50),(-0.105,0.30),(-0.100,0.42),(-0.095,0.26),
          (-0.090,0.38),(-0.085,0.22),(-0.080,0.33),(-0.075,0.46),(-0.070,0.19),(-0.065,0.28),
          (-0.060,0.16),(-0.055,0.24),(-0.050,0.13),(-0.045,0.20),(-0.040,0.11),(-0.035,0.17),
          (-0.030,0.08),(-0.026,0.13),(-0.022,0.06),(-0.018,0.10),(-0.014,0.04),(-0.010,0.07),
          (-0.006,0.02),(-0.002,0.01),(0.002,0.01),(0.006,0.04),(0.010,0.07),(0.014,0.04),
          (0.018,0.10),(0.022,0.07),(0.026,0.14),(0.030,0.10),(0.035,0.18),(0.040,0.13),
          (0.045,0.22),(0.050,0.16),(0.055,0.26),(0.060,0.19),(0.065,0.31),(0.070,0.23),
          (0.075,0.35),(0.080,0.27),(0.085,0.40),(0.090,0.31),(0.095,0.44),(0.100,0.36),
          (0.106,0.48)]
soc_6w += [(-0.115,0.42),(-0.105,0.38),(-0.095,0.34),(-0.085,0.30),(-0.075,0.26),(-0.066,0.23),
           (-0.058,0.20),(-0.050,0.17),(-0.042,0.14),(-0.034,0.12),(-0.026,0.09),(-0.018,0.06),
           (-0.010,0.04),(-0.002,0.02),(0.006,0.03),(0.014,0.06),(0.022,0.09),(0.030,0.13),
           (0.038,0.16),(0.046,0.19),(0.054,0.23),(0.062,0.26),(0.070,0.30),(0.078,0.33),
           (0.086,0.36),(0.094,0.40),(0.102,0.44),(-0.090,0.50),(0.080,0.45),(0.060,0.38)]
soc_1y = [(0.048,2.25),(0.186,2.49),
          (0.044,2.04),(0.050,2.04),(0.065,2.00),(0.069,1.92),(0.079,1.92),(0.123,1.85),
          (0.144,2.00),(0.225,2.00),(0.065,1.64),(0.087,1.59),(0.090,1.60),(0.035,1.57),
          (0.048,1.57),(0.166,1.62),(0.190,1.71),(0.196,1.53),(0.061,1.41),(-0.131,1.43),
          (-0.162,1.14),(-0.154,0.99),(-0.123,1.11),(-0.112,0.56),(-0.103,0.62),(-0.085,0.56),
          (-0.073,0.78),(-0.061,0.68),(-0.050,0.62),(-0.034,0.59),(-0.036,0.37),(-0.020,0.45),
          (0.028,1.18),(0.040,1.22),(0.023,1.01),(0.040,0.94),(0.057,1.22),(0.069,1.20),
          (0.089,1.18),(0.097,1.06),(0.109,1.18),(0.107,0.84),(0.077,0.90),(0.095,0.82),
          (0.120,0.90),(0.129,0.82),(0.139,0.92),(0.141,0.59),(0.117,0.66),(0.099,0.54),
          (-0.070,0.30),(-0.065,0.22),(-0.060,0.34),(-0.055,0.18),(-0.050,0.28),(-0.045,0.14),
          (-0.040,0.22),(-0.035,0.11),(-0.030,0.17),(-0.026,0.08),(-0.022,0.13),(-0.018,0.05),
          (-0.014,0.09),(-0.010,0.03),(-0.006,0.05),(-0.002,0.01),(0.002,0.02),(0.006,0.05),
          (0.010,0.09),(0.014,0.14),(0.018,0.07),(0.022,0.18),(0.026,0.11),(0.030,0.24),
          (0.034,0.15),(0.038,0.30),(0.042,0.20),(0.046,0.36),(0.050,0.25),(0.054,0.42),
          (0.058,0.30),(0.062,0.48),(0.066,0.35),(0.070,0.55),(0.074,0.40),(0.078,0.60),
          (0.082,0.45),(0.086,0.65),(0.090,0.50),(0.095,0.70),(0.100,0.55),(0.106,0.62),
          (0.112,0.50),(0.118,0.58),(0.040,0.55),(0.050,0.65),(0.030,0.45),(0.060,0.75),
          (0.070,0.80)]
soc_1y += [(-0.066,0.28),(-0.058,0.24),(-0.050,0.20),(-0.042,0.17),(-0.034,0.13),(-0.026,0.10),
           (-0.018,0.07),(-0.010,0.05),(-0.002,0.03),(0.006,0.04),(0.012,0.10),(0.018,0.14),
           (0.024,0.17),(0.030,0.20),(0.036,0.25),(0.042,0.30),(0.048,0.34),(0.054,0.36),
           (0.060,0.40),(0.066,0.45),(0.072,0.48),(0.078,0.52),(0.084,0.56),(0.090,0.60),
           (0.096,0.62),(0.104,0.66),(0.112,0.68),(0.020,0.35),(0.035,0.50),(0.045,0.60),
           (0.055,0.70),(0.075,0.72),(0.085,0.80),(0.100,0.85),(0.065,0.62)]
ada_6w = [(0.261,1.53),(0.190,1.36),
          (-0.228,1.13),(-0.188,1.07),(-0.150,1.21),(-0.098,1.23),(-0.094,1.11),(-0.193,0.70),
          (-0.163,0.60),(-0.141,0.84),(-0.135,0.85),(-0.141,0.65),(-0.127,0.91),(-0.120,0.79),
          (-0.109,0.85),(-0.101,0.59),(-0.061,0.82),(-0.060,0.56),(0.137,1.13),(0.190,1.02),
          (0.205,1.02),(0.187,0.88),(0.146,0.84),(0.101,0.74),(0.079,0.76),(0.087,0.76),
          (0.120,0.65),(0.138,0.58),(0.156,0.72),(0.164,0.72),(0.035,0.74),(0.027,0.46),
          (0.053,0.56),
          (-0.125,0.48),(-0.120,0.38),(-0.115,0.55),(-0.110,0.33),(-0.105,0.46),(-0.100,0.29),
          (-0.095,0.40),(-0.090,0.25),(-0.085,0.35),(-0.080,0.50),(-0.075,0.21),(-0.070,0.30),
          (-0.065,0.42),(-0.060,0.17),(-0.055,0.25),(-0.050,0.14),(-0.045,0.21),(-0.040,0.11),
          (-0.035,0.17),(-0.030,0.08),(-0.026,0.13),(-0.022,0.06),(-0.018,0.10),(-0.014,0.04),
          (-0.010,0.07),(-0.006,0.02),(-0.002,0.01),(0.002,0.01),(0.006,0.04),(0.010,0.07),
          (0.014,0.04),(0.018,0.10),(0.022,0.07),(0.026,0.14),(0.030,0.10),(0.035,0.18),
          (0.040,0.13),(0.045,0.23),(0.050,0.17),(0.055,0.28),(0.060,0.21),(0.065,0.33),
          (0.070,0.25),(0.075,0.38),(0.080,0.29),(0.085,0.43),(0.090,0.34),(0.095,0.48),
          (0.100,0.40),(0.070,0.50),(0.080,0.55)]
ada_6w += [(-0.120,0.44),(-0.110,0.40),(-0.100,0.36),(-0.090,0.32),(-0.080,0.28),(-0.072,0.25),
           (-0.064,0.22),(-0.056,0.19),(-0.048,0.16),(-0.040,0.13),(-0.032,0.11),(-0.024,0.08),
           (-0.016,0.05),(-0.008,0.03),(0.000,0.02),(0.008,0.04),(0.016,0.07),(0.024,0.10),
           (0.032,0.14),(0.040,0.18),(0.048,0.21),(0.056,0.24),(0.064,0.28),(0.072,0.32),
           (0.080,0.36),(0.088,0.40),(0.096,0.44),(-0.100,0.55),(-0.085,0.48),(0.060,0.40),
           (0.090,0.55)]
ada_1y = [(-0.176,2.34),(0.085,2.15),
          (0.044,2.00),(0.103,1.91),(0.112,1.77),(0.042,1.75),(0.049,1.66),(0.063,1.84),
          (0.061,1.64),(0.040,1.64),(0.178,1.64),(0.087,1.51),(0.107,1.48),(0.112,1.43),
          (0.125,1.48),(0.031,1.38),(0.040,1.44),(0.049,1.38),(0.099,1.40),(0.166,1.35),
          (0.202,1.23),(0.004,1.19),(0.044,1.13),(0.073,1.19),(0.085,1.23),(0.091,1.13),
          (0.109,1.21),(0.121,1.25),(0.139,1.21),(0.154,1.12),(0.032,0.93),(0.053,1.04),
          (0.057,0.91),(0.065,0.82),(0.077,0.97),(-0.125,0.79),(-0.121,0.65),(-0.082,0.79),
          (-0.103,0.51),(-0.095,0.56),(-0.063,0.65),(-0.066,0.45),(-0.047,0.32),(-0.012,0.51),
          (-0.034,0.28),
          (-0.060,0.30),(-0.055,0.22),(-0.050,0.18),(-0.045,0.26),(-0.040,0.14),(-0.035,0.20),
          (-0.030,0.10),(-0.026,0.16),(-0.022,0.07),(-0.018,0.12),(-0.014,0.04),(-0.010,0.08),
          (-0.006,0.02),(-0.002,0.01),(0.002,0.02),(0.006,0.05),(0.010,0.10),(0.014,0.06),
          (0.018,0.15),(0.022,0.09),(0.026,0.21),(0.030,0.13),(0.034,0.27),(0.038,0.18),
          (0.042,0.33),(0.046,0.23),(0.050,0.40),(0.054,0.28),(0.058,0.46),(0.062,0.33),
          (0.066,0.52),(0.070,0.38),(0.074,0.58),(0.078,0.43),(0.082,0.64),(0.086,0.48),
          (0.090,0.70),(0.095,0.53),(0.100,0.76),(0.106,0.60),(0.112,0.82),(0.118,0.66),
          (0.125,0.88),(0.132,0.72),(0.140,0.95),(0.148,0.80),(0.040,0.50),(0.050,0.60),
          (0.060,0.70),(0.070,0.78),(0.030,0.40)]
ada_1y += [(-0.056,0.26),(-0.048,0.21),(-0.040,0.18),(-0.032,0.14),(-0.024,0.10),(-0.016,0.07),
           (-0.008,0.04),(0.000,0.03),(0.008,0.06),(0.016,0.10),(0.024,0.15),(0.032,0.20),
           (0.040,0.26),(0.048,0.31),(0.056,0.36),(0.064,0.42),(0.072,0.47),(0.080,0.52),
           (0.088,0.57),(0.096,0.62),(0.104,0.68),(0.114,0.74),(0.124,0.78),(0.136,0.84),
           (0.146,0.90),(0.156,1.00),(0.020,0.30),(0.035,0.45),(0.055,0.55),(0.075,0.65),
           (0.090,0.80),(0.110,0.95),(0.130,1.05),(0.045,0.70),(0.065,0.85)]

panels = [[anx_6w, anx_1y], [dep_6w, dep_1y], [int_6w, int_1y], [att_6w, att_1y],
          [bsi_6w, bsi_1y], [hyp_6w, hyp_1y], [ext_6w, ext_1y], [dev_6w, dev_1y],
          [soc_6w, soc_1y], [ada_6w, ada_1y]]

# pathway labels: (row, col) -> [(text, x, y)]
labels = {
    (1, 1): [("ASPASN.PWY", -0.156, 2.45)],
    (2, 0): [("PYRIDNUCSAL.PWY", 0.082, 2.24)],
    (3, 0): [("PWY.5415", -0.150, 2.44)],
    (3, 1): [("DENOVOPURINE2.PWY", -0.178, 2.38)],
    (4, 0): [("PWY.4981", -0.092, 3.03), ("PWY.7399", -0.252, 2.36)],
    (4, 1): [("PWY4FS.8", -0.233, 2.70), ("ASPASN.PWY", -0.032, 2.81),
             ("PWY4FS.7", -0.113, 1.96), ("PWY.7111", 0.087, 2.14)],
    (5, 0): [("PWY.7399", -0.220, 2.48), ("PWY.4981", -0.070, 1.81)],
    (6, 0): [("PWY.4981", -0.025, 3.02), ("PWY.7399", -0.220, 2.64),
             ("PWY.5910", -0.260, 2.34), ("PWY.7560", -0.151, 2.41)],
    (6, 1): [("ASPASN.PWY", -0.146, 2.64), ("PWY.7111", 0.097, 1.97)],
    (7, 1): [("PWY.7187", -0.129, 3.03), ("7ALPHADEHYDROX.PWY", 0.112, 2.94),
             ("DENOVOPURINE2.PWY", 0.095, 2.18)],
    (8, 1): [("DENOVOPURINE2.PWY", -0.006, 2.62), ("PWY.922", 0.226, 2.88)],
    (9, 1): [("7ALPHADEHYDROX.PWY", -0.182, 2.99), ("ASPASN.PWY", 0.028, 2.56)],
}
leaders = {
    (4, 1): [(-0.174, 2.59, -0.129, 2.12)],
    (6, 0): [(-0.173, 3.17, -0.074, 3.03)],
}

W, H = 853, 1372
fig = plt.figure(figsize=(W / 100, H / 100), dpi=100)
frame_c = '#5f5f5f'
row_top, row_h = 45.0, 127.3
col_x, col_w = [67, 389], 322


def tier(v):
    if v > 2:
        return '#7d7d7d', 3
    if v > 1.301:
        return '#ababab', 2
    return '#d5d5d5', 1


for r in range(len(outcomes)):
    for c in range(2):
        top = row_top + r * row_h
        ax = fig.add_axes([col_x[c] / W, 1 - (top + row_h) / H, col_w / W, row_h / H])
        pts = panels[r][c]
        cols = [tier(p[1]) for p in pts]
        for lvl in (1, 2, 3):
            xs = [p[0] for p, t in zip(pts, cols) if t[1] == lvl]
            ys = [p[1] for p, t in zip(pts, cols) if t[1] == lvl]
            col = [t[0] for t in cols if t[1] == lvl]
            ax.scatter(xs, ys, s=20, c=col, linewidths=0, zorder=2 + lvl)
        ax.axhline(2, color='#666666', lw=1.4, ls=(0, (1, 3.6)), zorder=2)
        ax.axhline(-np.log10(0.05), color='#bdbdbd', lw=1.3, ls=(0, (7.5, 5.0)), zorder=2)
        for txt, tx, ty in labels.get((r, c), []):
            ax.text(tx, ty, txt, fontsize=7.3, color='#222222', ha='center', va='center', zorder=7)
        for x0, y0, x1, y1 in leaders.get((r, c), []):
            ax.plot([x0, x1], [y0, y1], color='#222222', lw=1.3, zorder=6)
        ax.set_xlim(-0.309, 0.287)
        ax.set_ylim(-0.18, 3.42)
        for s in ax.spines.values():
            s.set_color(frame_c)
            s.set_linewidth(1.2)
        ax.set_yticks(yticks)
        ax.set_xticks(xticks)
        ax.tick_params(length=4, width=1, color=frame_c, labelsize=11, pad=2, labelcolor='#222222')
        if c == 1:
            ax.tick_params(axis='y', left=False, labelleft=False)
        if r < len(outcomes) - 1:
            ax.tick_params(axis='x', bottom=False, labelbottom=False)
        else:
            ax.set_xticklabels([f"{t:.1f}".replace('-', '\u2212') for t in xticks])

        # strip label on the right
        if c == 1:
            fig.text(782 / W, 1 - (top + row_h / 2) / H, outcomes[r], ha='center', va='center',
                     fontsize=12.5, color='#222222', linespacing=1.25)

# header strip
for c in range(2):
    hx = fig.add_axes([col_x[c] / W, 1 - 45 / H, col_w / W, 27 / H])
    hx.set_xticks([])
    hx.set_yticks([])
    for s in hx.spines.values():
        s.set_color(frame_c)
        s.set_linewidth(1.2)
    hx.text(0.5, 0.5, timepoints[c], ha='center', va='center', fontsize=12.5,
            color='#222222', transform=hx.transAxes)

# row separators in the right strip
for k in range(len(outcomes) + 1):
    yy = 1 - (row_top + k * row_h) / H
    fig.add_artist(Line2D([711 / W, 1.0], [yy, yy], color=frame_c, lw=1.2))

fig.text(20 / W, 1 - 680 / H, "\u2212Log$_{10}$ ($p$ value)", rotation=90, ha='center',
         va='center', fontsize=11.5, color='#222222')
fig.text(389 / W, 1 - 1360 / H, "Effect estimate", ha='center', va='center',
         fontsize=11.5, color='#222222')

fig.savefig('out.png', dpi=100)
